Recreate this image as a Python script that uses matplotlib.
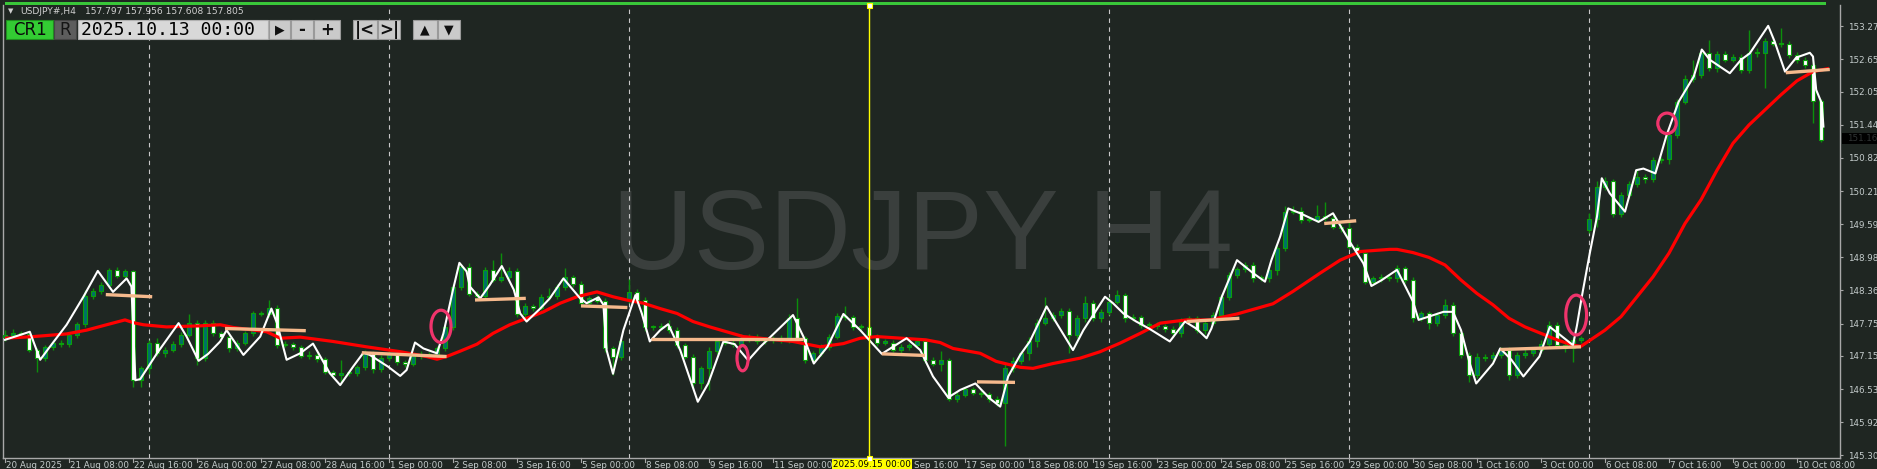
import numpy as np
import matplotlib
matplotlib.use('Agg')
import matplotlib.pyplot as plt
from matplotlib.patches import Rectangle, Ellipse
from matplotlib.transforms import blended_transform_factory

W, H = 1877, 469
BG = '#1f2622'

# H4 bars from 20 Aug 2025 00:00 to 10 Oct 2025 20:00
closes = [
    147.54, 147.57, 147.56, 147.27, 147.11, 147.31, 147.39, 147.37, 147.54, 147.74, 148.26, 148.36,
    148.47, 148.75, 148.64, 148.72, 146.70, 146.92, 147.39, 147.20, 147.27, 147.37, 147.54, 147.76,
    147.11, 147.76, 147.58, 147.51, 147.29, 147.40, 147.57, 147.94, 147.93, 148.05, 147.35, 147.37,
    147.31, 147.15, 147.17, 147.09, 146.86, 146.79, 146.83, 146.84, 146.94, 147.21, 146.90, 147.11,
    147.20, 147.04, 147.00, 147.15, 147.19, 147.16, 147.29, 147.69, 148.44, 148.81, 148.31, 148.26,
    148.75, 148.57, 148.61, 148.73, 147.93, 148.08, 148.04, 148.24, 148.26, 148.43, 148.61, 148.49,
    148.13, 148.22, 148.18, 147.29, 147.14, 147.42, 148.33, 148.19, 147.68, 147.69, 147.71, 147.63,
    147.35, 147.14, 146.64, 146.92, 147.25, 147.42, 147.40, 147.37, 147.46, 147.50, 147.43, 147.45,
    147.48, 147.45, 147.85, 147.48, 147.08, 147.20, 147.32, 147.51, 147.89, 147.87, 147.69, 147.68,
    147.52, 147.40, 147.40, 147.27, 147.32, 147.35, 147.43, 147.08, 147.01, 147.08, 146.36, 146.43,
    146.53, 146.47, 146.45, 146.35, 146.28, 146.92, 147.05, 147.20, 147.42, 147.77, 147.85, 147.91,
    147.99, 147.54, 147.85, 148.14, 147.85, 147.96, 148.16, 148.28, 147.85, 147.88, 147.73, 147.73,
    147.71, 147.66, 147.57, 147.79, 147.85, 147.63, 147.77, 147.91, 148.25, 148.65, 148.76, 148.84,
    148.59, 148.59, 148.75, 149.15, 149.83, 149.85, 149.68, 149.68, 149.75, 149.71, 149.55, 149.52,
    149.18, 149.06, 148.53, 148.59, 148.62, 148.59, 148.78, 148.56, 147.85, 147.94, 147.76, 147.91,
    148.10, 147.57, 147.17, 146.80, 147.14, 147.11, 147.17, 147.26, 146.80, 147.17, 147.20, 147.26,
    147.38, 147.72, 147.35, 147.29, 147.45, 147.48, 149.69, 150.29, 150.39, 149.79, 150.14, 150.34,
    150.48, 150.43, 150.79, 150.80, 151.25, 151.87, 152.29, 152.37, 152.77, 152.49, 152.76, 152.65,
    152.70, 152.46, 152.78, 152.77, 152.99, 152.95, 152.94, 152.74, 152.65, 152.55, 151.89, 151.16,
]
first_open = 147.50
gap_opens = {78: 148.19, 198: 149.49}   # weekend gaps

upper_wicks = [
    0.10, 0.08, 0.05, 0.03, 0.03, 0.05, 0.04, 0.05, 0.04, 0.05, 0.11, 0.06,
    0.05, 0.04, 0.06, 0.05, 0.03, 0.04, 0.05, 0.10, 0.04, 0.05, 0.06, 0.17,
    0.06, 0.05, 0.06, 0.04, 0.05, 0.04, 0.05, 0.04, 0.05, 0.14, 0.04, 0.05,
    0.04, 0.05, 0.07, 0.04, 0.05, 0.03, 0.25, 0.04, 0.05, 0.05, 0.04, 0.05,
    0.08, 0.05, 0.04, 0.05, 0.06, 0.04, 0.05, 0.04, 0.05, 0.04, 0.06, 0.05,
    0.05, 0.19, 0.45, 0.08, 0.05, 0.05, 0.04, 0.06, 0.16, 0.06, 0.17, 0.05,
    0.05, 0.04, 0.06, 0.05, 0.04, 0.05, 0.25, 0.06, 0.05, 0.04, 0.06, 0.10,
    0.05, 0.04, 0.05, 0.05, 0.06, 0.05, 0.05, 0.06, 0.10, 0.05, 0.05, 0.06,
    0.05, 0.06, 0.08, 0.37, 0.05, 0.04, 0.06, 0.05, 0.06, 0.19, 0.05, 0.06,
    0.05, 0.04, 0.06, 0.04, 0.05, 0.05, 0.06, 0.04, 0.05, 0.17, 0.04, 0.05,
    0.05, 0.04, 0.05, 0.04, 0.05, 0.10, 0.08, 0.05, 0.08, 0.06, 0.40, 0.06,
    0.05, 0.05, 0.06, 0.12, 0.05, 0.06, 0.08, 0.09, 0.04, 0.05, 0.04, 0.05,
    0.05, 0.04, 0.05, 0.06, 0.05, 0.04, 0.05, 0.06, 0.05, 0.06, 0.05, 0.06,
    0.05, 0.06, 0.05, 0.06, 0.10, 0.08, 0.06, 0.05, 0.20, 0.25, 0.05, 0.06,
    0.11, 0.05, 0.06, 0.05, 0.06, 0.05, 0.06, 0.05, 0.06, 0.05, 0.04, 0.05,
    0.10, 0.05, 0.04, 0.05, 0.06, 0.05, 0.06, 0.05, 0.05, 0.06, 0.12, 0.05,
    0.06, 0.08, 0.06, 0.05, 0.06, 0.05, 0.12, 0.10, 0.08, 0.05, 0.06, 0.05,
    0.14, 0.05, 0.06, 0.05, 0.06, 0.05, 0.08, 0.28, 0.06, 0.25, 0.05, 0.06,
    0.05, 0.06, 0.42, 0.08, 0.06, 0.05, 0.29, 0.06, 0.05, 0.06, 0.05, 0.04,
]
lower_wicks = [
    0.08, 0.06, 0.05, 0.05, 0.25, 0.06, 0.05, 0.05, 0.06, 0.05, 0.05, 0.05,
    0.05, 0.06, 0.05, 0.04, 0.12, 0.12, 0.10, 0.05, 0.06, 0.05, 0.05, 0.04,
    0.12, 0.05, 0.05, 0.04, 0.06, 0.05, 0.04, 0.05, 0.04, 0.05, 0.06, 0.04,
    0.05, 0.04, 0.05, 0.06, 0.05, 0.04, 0.14, 0.05, 0.06, 0.05, 0.06, 0.04,
    0.05, 0.05, 0.06, 0.04, 0.05, 0.04, 0.05, 0.04, 0.05, 0.06, 0.05, 0.05,
    0.06, 0.05, 0.05, 0.05, 0.06, 0.05, 0.05, 0.04, 0.05, 0.05, 0.05, 0.05,
    0.06, 0.05, 0.05, 0.06, 0.34, 0.06, 0.05, 0.05, 0.06, 0.05, 0.05, 0.06,
    0.05, 0.05, 0.08, 0.10, 0.40, 0.06, 0.05, 0.05, 0.06, 0.05, 0.05, 0.06,
    0.05, 0.05, 0.06, 0.05, 0.06, 0.05, 0.05, 0.06, 0.05, 0.05, 0.06, 0.05,
    0.05, 0.06, 0.05, 0.05, 0.06, 0.05, 0.05, 0.06, 0.05, 0.14, 0.05, 0.06,
    0.05, 0.05, 0.06, 0.05, 0.05, 0.80, 0.06, 0.05, 0.12, 0.10, 0.05, 0.05,
    0.05, 0.34, 0.05, 0.06, 0.05, 0.06, 0.05, 0.05, 0.06, 0.05, 0.06, 0.05,
    0.05, 0.06, 0.05, 0.06, 0.05, 0.06, 0.08, 0.05, 0.05, 0.06, 0.05, 0.05,
    0.06, 0.05, 0.06, 0.10, 0.05, 0.05, 0.06, 0.05, 0.05, 0.06, 0.05, 0.06,
    0.05, 0.06, 0.05, 0.05, 0.06, 0.05, 0.06, 0.05, 0.06, 0.05, 0.10, 0.05,
    0.06, 0.05, 0.06, 0.14, 0.05, 0.06, 0.05, 0.05, 0.10, 0.06, 0.05, 0.05,
    0.05, 0.06, 0.05, 0.06, 0.25, 0.05, 0.06, 0.15, 0.05, 0.06, 0.05, 0.06,
    0.05, 0.06, 0.05, 0.06, 0.09, 0.06, 0.05, 0.05, 0.06, 0.05, 0.06, 0.05,
    0.05, 0.06, 0.05, 0.06, 0.65, 0.05, 0.06, 0.05, 0.06, 0.05, 0.42, 0.03,
]

# red moving average (bar, price)
ma_points = [
    (0, 147.48), (3.5, 147.51), (7.7, 147.56), (10.2, 147.63), (12.7, 147.73), (15.0, 147.82),
    (16.0, 147.77), (17.3, 147.73), (20.2, 147.69), (24.4, 147.71), (26.9, 147.73), (28.5, 147.68),
    (32.7, 147.60), (34.4, 147.48), (36.9, 147.50), (41.0, 147.42), (43.1, 147.37), (45.2, 147.32),
    (49.4, 147.23), (52.7, 147.14), (54.0, 147.09), (55.2, 147.14), (56.9, 147.24), (59.0, 147.37),
    (61.0, 147.57), (63.1, 147.73), (65.2, 147.85), (67.3, 147.97), (69.4, 148.13), (71.5, 148.25),
    (74.0, 148.34), (76.0, 148.25), (77.7, 148.19), (79.8, 148.13), (81.9, 148.03), (84.0, 147.94),
    (86.0, 147.79), (88.1, 147.69), (90.2, 147.60), (92.3, 147.51), (94.4, 147.48), (98.5, 147.42),
    (101.9, 147.32), (104.8, 147.38), (106.9, 147.48), (109.0, 147.51), (115.1, 147.45), (116.9, 147.40),
    (118.5, 147.29), (121.9, 147.20), (123.9, 147.05), (126.9, 146.94), (128.5, 146.92), (131.0, 147.01),
    (134.4, 147.11), (136.9, 147.23), (139.4, 147.39), (141.9, 147.57), (144.4, 147.76), (147.7, 147.82),
    (150.6, 147.82), (154.0, 147.93), (158.5, 148.12), (161.0, 148.35), (164.4, 148.69), (166.9, 148.93),
    (169.4, 149.09), (173.1, 149.13), (174.0, 149.13), (176, 149.07), (178, 148.98), (180, 148.84),
    (182, 148.56), (184, 148.31), (186, 148.10), (188, 147.85), (190, 147.69), (192, 147.57),
    (194, 147.45), (196, 147.35), (197, 147.33), (200, 147.63), (202, 147.88), (204, 148.25),
    (206, 148.62), (208, 149.06), (210, 149.61), (212, 150.05), (214, 150.60), (216, 151.10),
    (218, 151.44), (220, 151.72), (222, 152.00), (224, 152.26), (226, 152.43), (228, 152.49),
]

# white line (bar, price)
white_line = [
    (0, 147.45), (3.1, 147.60), (4.4, 147.08), (5.6, 147.32), (7.7, 147.73), (9.8, 148.25),
    (11.6, 148.73), (13.5, 148.34), (15.2, 148.59), (15.8, 148.44), (16.3, 146.70), (16.9, 146.72),
    (19.0, 147.20), (21.7, 147.76), (22.7, 147.51), (24.2, 147.06), (25.4, 147.19), (26.9, 147.42),
    (27.7, 147.63), (29.8, 147.17), (31.9, 147.51), (33.3, 148.03), (34.0, 147.76), (35.2, 147.08),
    (36.9, 147.20), (38.5, 147.38), (40.6, 146.83), (41.9, 146.61), (43.5, 146.95), (44.8, 147.21),
    (45.6, 147.17), (47.9, 146.95), (49.4, 146.78), (50.2, 146.89), (51.25, 147.40), (52.3, 147.29),
    (54.0, 147.20), (54.8, 147.57), (56.0, 148.38), (56.8, 148.88), (57.7, 148.72), (58.1, 148.44),
    (59.4, 148.22), (60.6, 148.47), (62.1, 148.82), (63.6, 148.38), (64.4, 147.94), (65.2, 147.79),
    (66.9, 148.03), (68.1, 148.22), (69.8, 148.59), (71.9, 148.22), (72.7, 148.13), (74.2, 148.24),
    (74.8, 148.10), (75.2, 147.26), (76.0, 146.82), (77.3, 147.63), (78.8, 148.28), (79.6, 147.94),
    (80.6, 147.42), (81.9, 147.63), (82.9, 147.74), (84.4, 147.26), (86.6, 146.30), (87.9, 146.64),
    (89.8, 147.42), (91.2, 147.37), (92.9, 147.07), (94.4, 147.32), (98.5, 147.91), (99.8, 147.51),
    (101.1, 147.01), (102.8, 147.32), (104.8, 147.93), (106.9, 147.63), (109.6, 147.19), (112.7, 147.48),
    (114.4, 147.26), (116.0, 146.77), (117.9, 146.38), (119.4, 146.52), (121.3, 146.64), (123.1, 146.36),
    (124.4, 146.21), (125.4, 146.77), (126.9, 147.17), (128.1, 147.42), (130.2, 148.07), (131.2, 147.82),
    (133.5, 147.26), (134.8, 147.63), (137.5, 148.25), (138.5, 148.13), (139.8, 147.94), (141.4, 147.79),
    (143.0, 147.66), (145.6, 147.42), (147.5, 147.79), (149.0, 147.65), (150.2, 147.48), (150.8, 147.66),
    (152.1, 148.25), (154.0, 148.93), (156.0, 148.69), (157.5, 148.53), (158.3, 148.93), (159.4, 149.37),
    (160.4, 149.89), (161.9, 149.80), (164.2, 149.64), (166.0, 149.80), (168.1, 149.27), (169.8, 148.87),
    (170.8, 148.45), (172.1, 148.56), (174.0, 148.75), (176.0, 148.16), (176.7, 147.82), (179.8, 147.97),
    (181.0, 147.97), (182.0, 147.63), (183.1, 147.01), (183.9, 146.64), (186.0, 147.01), (186.9, 147.29),
    (188.3, 147.08), (189.8, 146.77), (191.8, 147.14), (193.1, 147.69), (194.4, 147.54), (196.0, 147.35),
    (196.5, 147.72), (197.1, 148.25), (198.1, 149.06), (199.0, 149.74), (199.6, 150.45), (200.6, 150.17),
    (202.5, 149.83), (203.9, 150.60), (204.8, 150.63), (206.3, 150.54), (207.7, 151.25), (209.2, 151.87),
    (211.1, 152.34), (212.1, 152.84), (213.1, 152.65), (215.6, 152.40), (217.0, 152.65), (218.1, 152.77),
    (220.4, 153.28), (221.2, 152.99), (222.5, 152.43), (223.9, 152.69), (225.6, 152.78), (226.0, 152.71),
    (226.4, 152.09), (227.1, 151.84), (227.3, 151.41),
]

# orange level segments (bar0, price0, bar1, price1)
levels = [
    (12.6, 148.29, 18.4, 148.25), (27.5, 147.66, 37.6, 147.62), (44.6, 147.21, 55.2, 147.14),
    (58.75, 148.19, 65.1, 148.22), (72.0, 148.08, 77.8, 148.05), (80.8, 147.47, 99.7, 147.47),
    (109.6, 147.19, 115.0, 147.16), (121.5, 146.67, 126.25, 146.66), (147.7, 147.79, 154.3, 147.85),
    (164.9, 149.61, 168.9, 149.66), (186.9, 147.27, 197.0, 147.32), (222.6, 152.41, 228.1, 152.47),
]

# pink ellipses (bar, price, width in bars, height in price)
ellipses = [(54.5, 147.70, 2.5, 0.60), (92.2, 147.11, 1.4, 0.47),
            (196.4, 147.91, 2.6, 0.74), (207.75, 151.47, 2.3, 0.38)]

price_ticks = [153.272, 152.657, 152.057, 151.442, 150.827, 150.212, 149.597,
               148.982, 148.367, 147.752, 147.152, 146.537, 145.922, 145.307]
# time axis labels as shown (the 12 Sep 08:00 label sits under the cursor date box)
time_labels = ['20 Aug 2025', '21 Aug 08:00', '22 Aug 16:00', '26 Aug 00:00', '27 Aug 08:00',
               '28 Aug 16:00', '1 Sep 00:00', '2 Sep 08:00', '3 Sep 16:00', '5 Sep 00:00',
               '8 Sep 08:00', '9 Sep 16:00', '11 Sep 00:00', '', 'Sep 16:00',
               '17 Sep 00:00', '18 Sep 08:00', '19 Sep 16:00', '23 Sep 00:00', '24 Sep 08:00',
               '25 Sep 16:00', '29 Sep 00:00', '30 Sep 08:00', '1 Oct 16:00', '3 Oct 00:00',
               '6 Oct 08:00', '7 Oct 16:00', '9 Oct 00:00', '10 Oct 08:00']
week_starts = [18, 48, 78, 138, 168, 198]
cursor_bar = 108
cursor_label = '2025.09.15 00:00'

# ---- build candles
opens = [first_open] + closes[:-1]
for k, v in gap_opens.items():
    opens[k] = v
o = np.array(opens)
c = np.array(closes)
x = np.arange(len(c))
top = np.maximum(o, c)
bot = np.minimum(o, c)
hi = top + np.array(upper_wicks)
lo = bot - np.array(lower_wicks)
body = np.maximum(top - bot, 0.02)
bull = c >= o

fig = plt.figure(figsize=(W / 100, H / 100), dpi=100, facecolor=BG)
ax = fig.add_axes([3 / W, 11 / H, 1837 / W, 453 / H], facecolor=BG)
ax.set_xlim(-0.25, 229.375)
ax.set_ylim(145.256, 153.667)

# watermark
ax.text(923 / W, 1 - 269 / H, 'USDJPY H4', transform=fig.transFigure, ha='center',
        va='baseline', fontsize=81.5, color='#3a3f3d', family='Liberation Sans', zorder=0.5)

for b in week_starts:
    ax.axvline(b, color='#c8c8c8', lw=0.8, ls=(0, (4, 4)), zorder=1)

ax.vlines(x, lo, hi, color='#0b8f0b', lw=1, zorder=3)
ax.bar(x[bull], body[bull], bottom=bot[bull], width=0.55, color='#006f69',
       edgecolor='#0aa00a', linewidth=0.8, zorder=4)
ax.bar(x[~bull], body[~bull], bottom=bot[~bull], width=0.55, color='white',
       edgecolor='#0aa00a', linewidth=0.8, zorder=4)

mx, my = zip(*ma_points)
ax.plot(mx, my, color='#ff0000', lw=2.3, zorder=5, solid_capstyle='butt')
wx, wy = zip(*white_line)
ax.plot(wx, wy, color='white', lw=1.5, zorder=6)
for x0, y0, x1, y1 in levels:
    ax.plot([x0, x1], [y0, y1], color='#f6b98c', lw=2.4, zorder=7, solid_capstyle='butt')
for ex, ey, ew, eh in ellipses:
    ax.add_patch(Ellipse((ex, ey), ew, eh, fill=False, edgecolor='#f0346c', lw=2.3, zorder=8))

ax.axvline(cursor_bar, color='#ffff00', lw=1, zorder=9)

for s in ['left', 'bottom', 'right']:
    ax.spines[s].set_color('#a8a8a8')
    ax.spines[s].set_linewidth(1)
ax.spines['top'].set_visible(False)

ax.set_xticks([])
ax.yaxis.tick_right()
ax.set_yticks(price_ticks)
ax.set_yticklabels([f'{v:.3f}' for v in price_ticks])
ax.tick_params(axis='y', length=2, width=0.8, color='#a8a8a8', pad=3.5,
               labelsize=6.3, labelcolor='#c4cccc')

# time axis labels
trans = blended_transform_factory(ax.transData, ax.transAxes)
for i, lab in enumerate(time_labels):
    b = i * 8
    ax.plot([b, b], [0, -0.008], transform=trans, color='#a8a8a8', lw=0.8, clip_on=False)
    if not lab:
        continue
    shift = 1.6 if lab.startswith('Sep') else 0.15   # partly hidden by the cursor box
    ax.text(b + shift, -0.006, lab, transform=trans, ha='left', va='top', fontsize=6.3,
            color='#c4cccc', clip_on=False)


def px(xp, yp):
    return xp / W, 1 - yp / H


def prect(x0, y0, x1, y1, fc, ec='none', lw=0, z=5):
    fig.add_artist(Rectangle(px(x0, y1), (x1 - x0) / W, (y1 - y0) / H, transform=fig.transFigure,
                             facecolor=fc, edgecolor=ec, linewidth=lw, zorder=z))


def ptext(xp, yp, s, **kw):
    kw.setdefault('zorder', 7)
    fig.text(*px(xp, yp), s, **kw)


# current price box
prect(1842, 133, 1877, 144, '#000000', z=6)
ptext(1847, 138.5, '151.168', fontsize=6.3, color='#303434', va='center')

# cursor date on time axis
prect(832, 459, 912, 469.5, '#ffff00', z=6)
ptext(872, 464.5, cursor_label, fontsize=6.3, color='black', ha='center', va='center')
prect(866.5, 455.5, 871.5, 460.5, 'white', ec='#ffff00', lw=0.8, z=8)
prect(866.5, 3, 871.5, 8, 'white', ec='#ffff00', lw=0.8, z=8)

# green bar at the top
prect(5, 2.5, 1826, 5.5, '#39c639', z=6)

# header text
ptext(11, 11, '\u25bc', fontsize=5, color='#d0d0d0', ha='center', va='center')
ptext(20, 11, 'USDJPY#,H4', fontsize=6.6, color='#d0d0d0', va='center')
ptext(85, 11, '157.797 157.956 157.608 157.805', fontsize=6.6, color='#d0d0d0', va='center')

# control buttons
prect(6, 20, 53, 39, '#33cc33', ec='#1f8f1f', lw=0.8)
ptext(29.5, 30, 'CR1', fontsize=12, color='#0a0a0a', ha='center', va='center')
prect(54, 20, 76, 39, '#5d5d5d', ec='#454545', lw=0.8)
ptext(65, 30, 'R', fontsize=12, color='#151515', ha='center', va='center')
prect(78, 20, 268, 39, '#d8d8d8', ec='#b0b0b0', lw=0.8)
ptext(81, 30, '2025.10.13 00:00', fontsize=13, family='DejaVu Sans Mono', color='black', va='center')
buttons = [(269, 290, '\u25b6'), (291, 313, '-'), (314, 340, '+'), (353, 377, '|<'),
           (378, 400, '>|'), (413, 437, '\u25b2'), (438, 460, '\u25bc')]
for x0, x1, lab in buttons:
    prect(x0, 20, x1, 39, '#cacaca', ec='#9a9a9a', lw=0.8)
    fs = 9 if lab in ('\u25b6', '\u25b2', '\u25bc') else 12
    ptext((x0 + x1) / 2, 30, lab, fontsize=fs, color='#101010', ha='center', va='center',
          fontweight='bold')

fig.savefig('out.png', dpi=100, facecolor=BG)
